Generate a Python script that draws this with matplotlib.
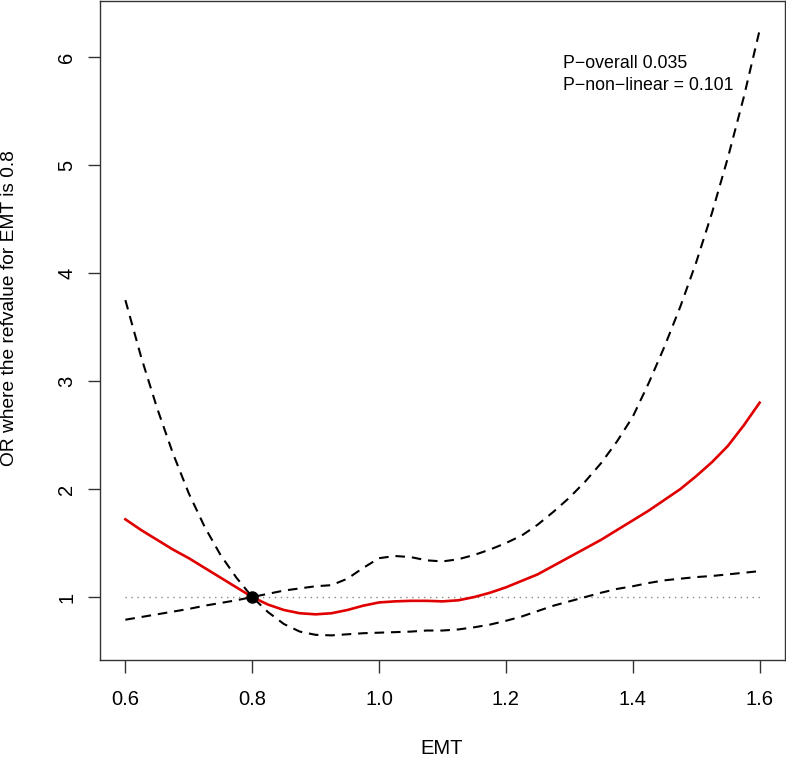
import numpy as np
import matplotlib
matplotlib.use("Agg")
import matplotlib.pyplot as plt

plt.rcParams['font.family'] = ['Liberation Sans', 'DejaVu Sans']

# EMT grid and values
emt = [0.6, 0.625, 0.65, 0.675, 0.7, 0.725, 0.75, 0.775, 0.8, 0.825, 0.85, 0.875,
       0.9, 0.925, 0.95, 0.975, 1.0, 1.025, 1.05, 1.075, 1.1, 1.125, 1.15, 1.175,
       1.2, 1.225, 1.25, 1.275, 1.3, 1.325, 1.35, 1.375, 1.4, 1.425, 1.45, 1.475,
       1.5, 1.525, 1.55, 1.575, 1.6]
odds = [1.72, 1.62, 1.53, 1.44, 1.36, 1.27, 1.18, 1.09, 1.00, 0.93, 0.88, 0.85,
        0.84, 0.85, 0.88, 0.92, 0.95, 0.96, 0.965, 0.965, 0.96, 0.97, 1.00, 1.04,
        1.09, 1.15, 1.21, 1.29, 1.37, 1.45, 1.53, 1.62, 1.71, 1.80, 1.90, 2.00,
        2.12, 2.25, 2.40, 2.59, 2.80]
upper = [3.75, 3.22, 2.75, 2.33, 1.96, 1.65, 1.39, 1.18, 1.00, 1.03, 1.06, 1.08,
         1.10, 1.11, 1.17, 1.27, 1.36, 1.38, 1.37, 1.34, 1.33, 1.35, 1.39, 1.44,
         1.50, 1.57, 1.67, 1.79, 1.92, 2.07, 2.24, 2.44, 2.67, 2.98, 3.32, 3.69,
         4.10, 4.56, 5.07, 5.63, 6.25]
lower = [0.79, 0.815, 0.84, 0.865, 0.89, 0.92, 0.945, 0.97, 1.00, 0.86, 0.75, 0.68,
         0.65, 0.645, 0.655, 0.665, 0.67, 0.675, 0.68, 0.69, 0.69, 0.70, 0.72, 0.745,
         0.78, 0.82, 0.87, 0.92, 0.96, 1.00, 1.04, 1.075, 1.10, 1.13, 1.155, 1.17,
         1.185, 1.195, 1.21, 1.225, 1.24]
ref_x, ref_y = 0.8, 1.0
xticks = [0.6, 0.8, 1.0, 1.2, 1.4, 1.6]
yticks = [1, 2, 3, 4, 5, 6]

fig = plt.figure(figsize=(7.86, 7.58), dpi=100)
ax = fig.add_axes([100/786, 1 - 660/758, 685/786, 659/758])

ax.plot([emt[0], emt[-1]], [1, 1], color='#888888', lw=1.0, ls=(0, (1, 3.3)))
ax.plot(emt, upper, color='black', lw=1.5, ls=(0, (4.6, 3.3)))
ax.plot(emt, lower, color='black', lw=1.5, ls=(0, (4.6, 3.3)))
ax.plot(emt, odds, color='#e00000', lw=1.9)
ax.plot([ref_x], [ref_y], 'o', color='black', ms=8)

ax.set_xlim(0.56, 1.64)
ax.set_ylim(0.417, 6.52)
ax.set_xticks(xticks)
ax.set_xticklabels(['%.1f' % v for v in xticks])
ax.set_yticks(yticks)
ax.set_yticklabels([str(v) for v in yticks], rotation=90, va='center')
ax.tick_params(length=9, width=1, color='#333333', labelsize=14.5, pad=8)
ax.tick_params(axis='x', pad=12.5)
for s in ax.spines.values():
    s.set_color('#333333')
    s.set_linewidth(1)

ax.text(1.29, 5.895, 'P\u2212overall 0.035', fontsize=12.8, ha='left', va='baseline')
ax.text(1.29, 5.70, 'P\u2212non\u2212linear = 0.101', fontsize=12.8, ha='left', va='baseline')

fig.text(442/786, 1 - 749/758, 'EMT', fontsize=14.5, ha='center', va='center')
fig.text(10/786, 1 - 308/758, 'OR where the refvalue for EMT is 0.8', fontsize=13.8,
         ha='center', va='center', rotation=90)

fig.savefig('out.png', dpi=100)
